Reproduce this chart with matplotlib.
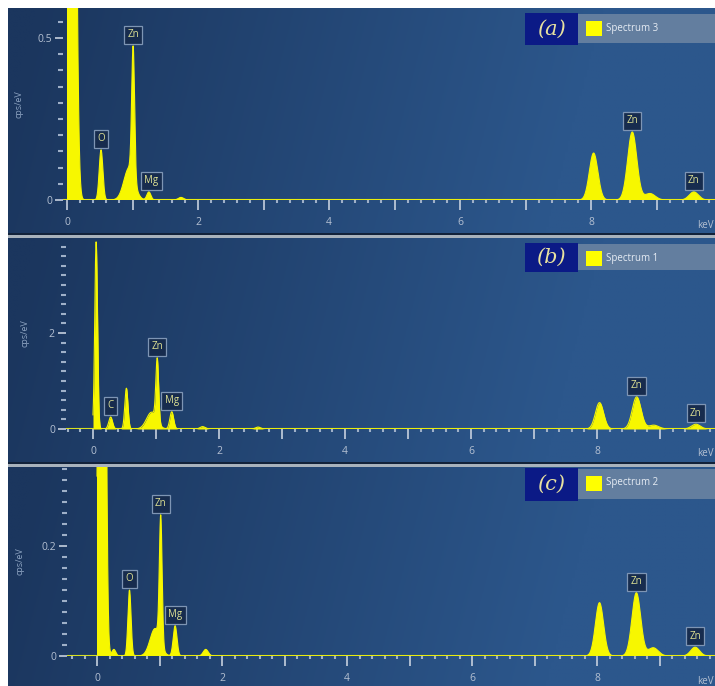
import numpy as np
import matplotlib.pyplot as plt
from matplotlib.patches import Rectangle
from matplotlib.ticker import MultipleLocator, FuncFormatter

plt.rcParams['font.family'] = ['Open Sans', 'DejaVu Sans']

W, H = 715, 686

# peak read-outs (energy keV, height cps/eV, width keV) for each spectrum
a_center = [0.08, 0.52, 0.95, 1.01, 1.25, 1.74, 8.04, 8.63, 8.90, 9.57]
a_height = [3.0, 0.155, 0.10, 0.40, 0.025, 0.008, 0.145, 0.21, 0.02, 0.025]
a_width = [0.045, 0.028, 0.08, 0.022, 0.03, 0.04, 0.065, 0.07, 0.08, 0.07]
a_labels = ['O', 'Zn', 'Mg', 'Zn', 'Zn']
a_label_x = [0.52, 1.01, 1.29, 8.63, 9.57]

b_center = [0.05, 0.28, 0.53, 0.93, 1.02, 1.25, 1.74, 2.62, 8.04, 8.63, 8.90, 9.57]
b_height = [3.9, 0.25, 0.85, 0.35, 1.3, 0.36, 0.05, 0.04, 0.55, 0.67, 0.08, 0.1]
b_width = [0.022, 0.03, 0.025, 0.08, 0.022, 0.03, 0.04, 0.04, 0.065, 0.07, 0.08, 0.07]
b_labels = ['C', 'Zn', 'Mg', 'Zn', 'Zn']
b_label_x = [0.28, 1.02, 1.25, 8.63, 9.57]

c_center = [0.08, 0.27, 0.52, 0.93, 1.02, 1.25, 1.74, 8.04, 8.63, 8.90, 9.57]
c_height = [3.0, 0.012, 0.12, 0.05, 0.23, 0.055, 0.012, 0.097, 0.115, 0.015, 0.016]
c_width = [0.038, 0.03, 0.025, 0.08, 0.022, 0.03, 0.04, 0.065, 0.07, 0.08, 0.07]
c_labels = ['O', 'Zn', 'Mg', 'Zn', 'Zn']
c_label_x = [0.52, 1.02, 1.25, 8.63, 9.57]

tags = ['(a)', '(b)', '(c)']
spectrum_names = ['Spectrum 3', 'Spectrum 1', 'Spectrum 2']
y_major = [0.5, 2, 0.2]
y_minor = [0.05, 0.2, 0.02]


def rect(x0, y0, x1, y1):
    return [x0 / W, 1 - y1 / H, (x1 - x0) / W, (y1 - y0) / H]


def spectrum(energy, centers, heights, widths):
    counts = np.zeros_like(energy)
    for c, h, w in zip(centers, heights, widths):
        counts += h * np.exp(-(energy - c) ** 2 / (2 * w ** 2))
    return counts


fig = plt.figure(figsize=(W / 100, H / 100), dpi=100, facecolor='white')

# panel geometry in pixels: background box, zero of x, px per keV, zero of y, px per unit
panel_box = [(8, 8, 233), (8, 238, 462), (8, 466, 686)]
x_zero = [67, 93, 97]
x_scale = [65.5, 63.0, 62.5]
ax_left = [63, 66, 67]
y_zero = [200, 429, 656]
y_scale = [324, 48, 550]
ylab_pad = [10, 14, 12]
tag_box = [(13, 45), (243, 272), (468, 501)]

data = [(a_center, a_height, a_width, a_labels, a_label_x),
        (b_center, b_height, b_width, b_labels, b_label_x),
        (c_center, c_height, c_width, c_labels, c_label_x)]

left_col = np.array([0x1b, 0x36, 0x5e]) / 255
right_col = np.array([0x2c, 0x57, 0x8c]) / 255

for i in range(3):
    bx0, by0, by1 = panel_box[i]
    bg = fig.add_axes(rect(bx0, by0, W, by1))
    gx, gy = np.meshgrid(np.linspace(0, 1, 300), np.linspace(0, 1, 60))
    t = np.clip(gx * 1.25 - 0.05 + 0.1 * gy, 0, 1)[..., None]
    bg.imshow(left_col * (1 - t) + right_col * t, aspect='auto', extent=[0, 1, 0, 1])
    bg.axis('off')

    centers, heights, widths, labels, label_x = data[i]
    xl = (ax_left[i] - x_zero[i]) / x_scale[i]
    xr = (W - x_zero[i]) / x_scale[i]
    ytop = (y_zero[i] - by0) / y_scale[i]
    ax = fig.add_axes(rect(ax_left[i], by0, W, y_zero[i]))
    ax.set_facecolor('none')
    for s in ax.spines.values():
        s.set_visible(False)

    energy = np.linspace(0, xr, 3000)
    counts = spectrum(energy, centers, heights, widths)
    ax.fill_between(energy, 0, counts, color='#f7f700', lw=0, zorder=3)
    ax.plot(energy, counts, color='#f7f700', lw=0.8, zorder=3)
    ax.axhline(0, color='#d8e020', lw=1.5, zorder=2)
    ax.set_xlim(xl, xr)
    ax.set_ylim(0, ytop)

    ax.xaxis.set_major_locator(MultipleLocator(1))
    ax.xaxis.set_minor_locator(MultipleLocator(0.2))
    ax.xaxis.set_major_formatter(FuncFormatter(lambda v, p: '%d' % v if round(v) % 2 == 0 else ''))
    ax.yaxis.set_major_locator(MultipleLocator(y_major[i]))
    ax.yaxis.set_minor_locator(MultipleLocator(y_minor[i]))
    ax.yaxis.set_major_formatter(FuncFormatter(lambda v, p: '0' if v == 0 else ('%g' % v)))
    ax.tick_params(which='major', axis='x', length=7, width=1.2, color='#c6d0de',
                   labelcolor='#b4c0d2', labelsize=7.5, pad=5)
    ax.tick_params(which='minor', axis='x', length=2.5, width=1.5, color='#9fb0c8')
    ax.tick_params(which='major', axis='y', length=6, width=1.2, color='#c6d0de',
                   labelcolor='#b4c0d2', labelsize=7.5, pad=2)
    ax.tick_params(which='minor', axis='y', length=3.5, width=1.5, color='#9fb0c8')
    ax.set_ylabel('cps/eV', color='#8ea4c2', fontsize=6.5, labelpad=ylab_pad[i])
    fig.text(714 / W, 1 - (y_zero[i] + 25) / H, 'keV', color='#b4c0d2', fontsize=7,
             ha='right', va='center')

    for lab, lx in zip(labels, label_x):
        near = np.abs(energy - lx) < 0.04
        top = counts[near].max()
        ax.annotate(lab, xy=(lx, top), xytext=(0, 4), textcoords='offset points',
                    ha='center', va='bottom', fontsize=7, color='#dfe294', zorder=5,
                    bbox=dict(boxstyle='square,pad=0.35', fc='#172c4e', ec='#7e95b4', lw=0.9))

    ty0, ty1 = tag_box[i]
    fig.patches.append(Rectangle((577 / W, 1 - (ty1 - 2) / H), (W - 577) / W, (ty1 - ty0 - 3) / H,
                                 transform=fig.transFigure, fc='#637e9f', ec='none', zorder=5))
    fig.patches.append(Rectangle((525 / W, 1 - ty1 / H), 53 / W, (ty1 - ty0) / H,
                                 transform=fig.transFigure, fc='#0b1a86', ec='none', zorder=6))
    fig.patches.append(Rectangle((586 / W, 1 - (ty0 + 23) / H), 16 / W, 15 / H,
                                 transform=fig.transFigure, fc='#ffff00', ec='none', zorder=6))
    fig.text(551 / W, 1 - (ty0 + ty1) / 2 / H, tags[i], family='DejaVu Serif', style='italic',
             fontsize=15, color='#e8e2a0', ha='center', va='center', zorder=7)
    fig.text(606 / W, 1 - (ty0 + 15) / H, spectrum_names[i], fontsize=7, color='#e6ecf4',
             ha='left', va='center', zorder=7)

# separators between panels
for yy in (233, 462):
    fig.patches.append(Rectangle((8 / W, 1 - (yy + 2) / H), 1, 2 / H, transform=fig.transFigure,
                                 fc='#12223a', ec='none', zorder=8))
    fig.patches.append(Rectangle((8 / W, 1 - (yy + 5) / H), 1, 3 / H, transform=fig.transFigure,
                                 fc='#a8b2bc', ec='none', zorder=8))

fig.savefig('out.png', dpi=100, facecolor='white')
